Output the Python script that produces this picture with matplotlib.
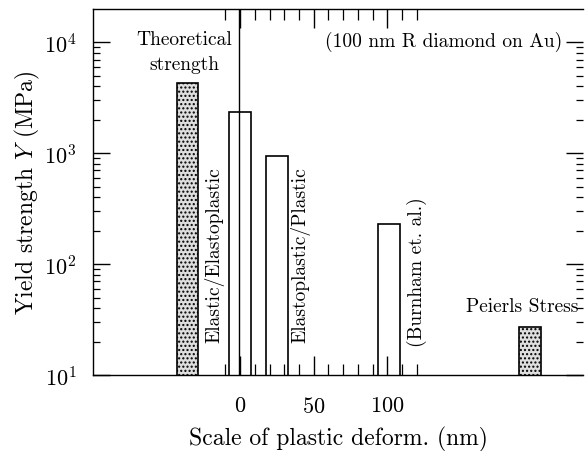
import numpy as np
import matplotlib
matplotlib.use("Agg")
import matplotlib.pyplot as plt
from matplotlib.ticker import FixedLocator, NullFormatter, LogLocator

# data
labels = ["Theoretical\nstrength", "Elastic/Elastoplastic", "Elastoplastic/Plastic",
          "(Burnham et. al.)", "Peierls Stress"]
scale_nm = [-36, 0, 25, 101, 197]
yield_mpa = [4300, 2350, 940, 230, 27]
stippled = [True, False, False, False, True]
xtick_major = [0, 50, 100]
xtick_minor = [-10, 10, 20, 30, 40, 60, 70, 80, 90, 110, 120]

plt.rcParams['font.family'] = ['cmr10', 'DejaVu Serif']
plt.rcParams['mathtext.fontset'] = 'cm'
plt.rcParams['axes.formatter.use_mathtext'] = True

fig = plt.figure(figsize=(5.85, 4.52), dpi=100)
ax = fig.add_axes([0.159, 0.168, 0.8376, 0.8097])
ax.set_yscale('log')

for x, y, s in zip(scale_nm, yield_mpa, stippled):
    if s:
        ax.bar(x, y, width=14.5, facecolor='#dedede', edgecolor='black',
               hatch='....', linewidth=1.2)
    else:
        ax.bar(x, y, width=15, facecolor='white', edgecolor='black', linewidth=1.2)

# vertical line at zero
ax.axvline(-0.7, color='black', lw=1.0)

ax.set_xlim(-100, 233)
ax.set_ylim(10, 10 ** 4.3)

# texts
fs = 14
top_line, bottom_line = labels[0].split("\n")
ax.text(-38, 9600, top_line, ha='center', va='baseline', fontsize=fs)
ax.text(-38, 5700, bottom_line, ha='center', va='baseline', fontsize=fs)
ax.text(-17.5, 19.8, labels[1], rotation=90, ha='center', va='bottom', fontsize=fs)
ax.text(41, 19.8, labels[2], rotation=90, ha='center', va='bottom', fontsize=fs)
ax.text(120, 18.3, labels[3], rotation=90, ha='center', va='bottom', fontsize=fs)
ax.text(230, 41.5, labels[4], ha='right', va='center', fontsize=fs)
ax.text(138, 10400, "(100 nm R diamond on Au)", ha='center', va='center', fontsize=fs)

# ticks
ax.xaxis.set_major_locator(FixedLocator(xtick_major))
ax.xaxis.set_minor_locator(FixedLocator(xtick_minor))
ax.xaxis.set_minor_formatter(NullFormatter())
ax.yaxis.set_major_locator(LogLocator(base=10, numticks=10))
ax.yaxis.set_minor_locator(LogLocator(base=10, subs=np.arange(2, 10), numticks=20))
ax.yaxis.set_minor_formatter(NullFormatter())
ax.tick_params(axis='both', which='major', direction='in', width=1.0,
               labelsize=16, top=True, right=True)
ax.tick_params(axis='y', which='major', length=12, pad=12)
ax.tick_params(axis='x', which='major', length=14, pad=15)
ax.tick_params(axis='y', which='minor', direction='in', length=5, width=0.9, right=True)
ax.tick_params(axis='x', which='minor', direction='in', length=8, width=0.9, top=True)

ax.spines['right'].set_visible(False)
for s in ['left', 'top', 'bottom']:
    ax.spines[s].set_linewidth(1.0)

ax.set_xlabel("Scale of plastic deform. (nm)", fontsize=17)
ax.xaxis.set_label_coords(0.5, -0.139)
ax.set_ylabel("Yield strength $Y$ (MPa)", fontsize=17)
ax.yaxis.set_label_coords(-0.105, 0.5)

fig.savefig("out.png", dpi=100)
